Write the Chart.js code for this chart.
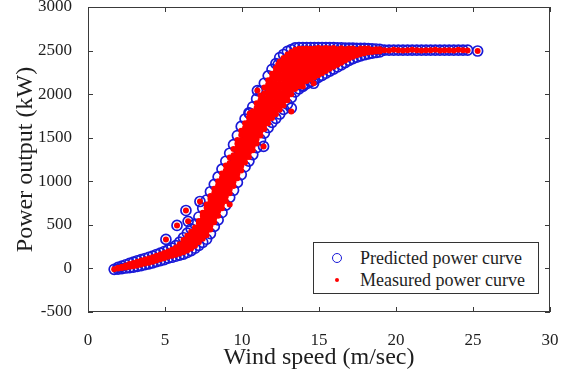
<!DOCTYPE html>
<html lang="en">
<head>
<meta charset="UTF-8">
<title>Power curve</title>
<script src="https://cdn.jsdelivr.net/npm/chart.js"></script>
<style>
  html, body { margin: 0; padding: 0; background: #fff; }
  .wrap { position: relative; width: 577px; height: 372px; }
  .legend {
    position: absolute; left: 313px; top: 242px; width: 224px; height: 50px;
    border: 1px solid #333; background: #fff;
    font-family: "Liberation Serif", serif; font-size: 18px; color: #1e1e1e;
  }
  .legend .row { position: absolute; left: 46px; height: 20px; line-height: 20px; white-space: nowrap; }
  .legend .ring { position: absolute; left: 18px; width: 8px; height: 8px; border: 1.6px solid #1919d7; border-radius: 50%; }
  .legend .dot { position: absolute; left: 21px; width: 4px; height: 4px; background: #ff0000; border-radius: 50%; }
</style>
</head>
<body>
<div class="wrap">
  <canvas id="powerChart" width="577" height="372"></canvas>
  <div class="legend">
    <span class="ring" style="top:10px"></span><span class="row" style="top:5px">Predicted power curve</span>
    <span class="dot" style="top:35px"></span><span class="row" style="top:27px">Measured power curve</span>
  </div>
</div>
<script>
// wind speed bins (m/s)
const windSpeed = [
  1.7, 1.95, 2.2, 2.45, 2.7, 2.95, 3.2, 3.45, 3.7, 3.95, 4.2, 4.45, 4.7, 4.95, 5.2, 5.45, 5.7, 5.95,
  6.2, 6.45, 6.7, 6.95, 7.2, 7.45, 7.7, 7.95, 8.2, 8.45, 8.7, 8.95, 9.2, 9.45, 9.7, 9.95,
  10.2, 10.45, 10.7, 10.95, 11.2, 11.45, 11.7, 11.95, 12.2, 12.45, 12.7, 12.95, 13.2, 13.45, 13.7, 13.95,
  14.2, 14.45, 14.7, 14.95, 15.2, 15.45, 15.7, 15.95, 16.2, 16.45, 16.7, 16.95, 17.2, 17.45, 17.7, 17.95,
  18.2, 18.45, 18.7, 18.95,
  19.25, 19.55, 19.85, 20.15, 20.45, 20.75, 21.05, 21.35, 21.65, 21.95, 22.25, 22.55, 22.85, 23.15,
  23.45, 23.75, 24.05, 24.35, 24.65
];

// measured power (kW) seen at each speed bin
const measuredKW = [
  [-8], [-2, 8], [5, 20], [12, 35], [18, 50], [26, 62], [35, 78], [45, 90], [56, 102], [66, 115],
  [78, 128], [92, 145], [105, 160], [118, 150, 178], [135, 168, 195], [145, 180, 215], [158, 200, 240],
  [171, 215, 255, 278], [185, 230, 280, 325], [205, 250, 295, 340, 375], [230, 275, 320, 365, 420],
  [260, 305, 350, 395, 440, 470], [300, 345, 390, 435, 480, 520, 545],
  [342, 385, 430, 475, 520, 565, 605, 640], [380, 425, 470, 515, 560, 605, 650, 695, 735],
  [447, 492, 537, 582, 627, 672, 717, 762, 800, 830],
  [530, 578, 626, 674, 722, 770, 818, 866, 915],
  [605, 655, 705, 755, 805, 855, 905, 955, 1000],
  [690, 740, 790, 840, 890, 940, 990, 1040, 1090],
  [775, 825, 875, 925, 975, 1025, 1075, 1125, 1180],
  [734, 863, 910, 960, 1010, 1060, 1110, 1160, 1210, 1272],
  [945, 995, 1045, 1095, 1145, 1195, 1245, 1300, 1370],
  [1035, 1085, 1135, 1185, 1235, 1285, 1335, 1385, 1430, 1475],
  [1125, 1175, 1225, 1275, 1325, 1375, 1425, 1475, 1530, 1580],
  [1215, 1265, 1315, 1365, 1415, 1465, 1515, 1565, 1615, 1665],
  [1280, 1330, 1380, 1430, 1480, 1530, 1580, 1630, 1685, 1735],
  [1355, 1405, 1455, 1505, 1555, 1605, 1655, 1705, 1755, 1805],
  [1435, 1485, 1535, 1585, 1635, 1685, 1735, 1790, 1845, 1895],
  [1525, 1575, 1625, 1675, 1725, 1775, 1825, 1875, 1930, 1985],
  [1600, 1650, 1700, 1750, 1800, 1850, 1900, 1950, 2010, 2075],
  [1665, 1715, 1765, 1815, 1865, 1915, 1965, 2015, 2065, 2110, 2160],
  [1725, 1775, 1825, 1875, 1925, 1975, 2025, 2075, 2130, 2185, 2235],
  [1770, 1820, 1870, 1920, 1970, 2020, 2070, 2120, 2170, 2220, 2260, 2300],
  [1820, 1870, 1920, 1970, 2020, 2070, 2120, 2170, 2220, 2270, 2325, 2375],
  [1870, 1920, 1970, 2020, 2070, 2120, 2170, 2220, 2270, 2320, 2370, 2415],
  [1930, 1980, 2030, 2080, 2130, 2180, 2230, 2280, 2330, 2380, 2420, 2455],
  [2000, 2050, 2100, 2150, 2200, 2250, 2300, 2350, 2400, 2445, 2485],
  [2060, 2110, 2160, 2210, 2260, 2310, 2360, 2410, 2460, 2510],
  [2090, 2140, 2190, 2240, 2290, 2340, 2390, 2440, 2480, 2520],
  [2130, 2180, 2230, 2280, 2330, 2380, 2430, 2475, 2520],
  [2150, 2200, 2250, 2300, 2350, 2400, 2445, 2485, 2525],
  [2172, 2222, 2272, 2322, 2372, 2420, 2470, 2520],
  [2195, 2245, 2295, 2345, 2395, 2440, 2485, 2525],
  [2218, 2268, 2318, 2368, 2415, 2460, 2500, 2530],
  [2240, 2290, 2340, 2390, 2440, 2485, 2525],
  [2265, 2315, 2365, 2415, 2460, 2500, 2530],
  [2290, 2340, 2390, 2440, 2485, 2525],
  [2313, 2363, 2410, 2455, 2495, 2530],
  [2337, 2385, 2430, 2475, 2515],
  [2360, 2410, 2455, 2495, 2528],
  [2385, 2430, 2475, 2515],
  [2410, 2455, 2495, 2525],
  [2430, 2470, 2505, 2525],
  [2445, 2480, 2510],
  [2460, 2495, 2525],
  [2470, 2500, 2525],
  [2480, 2505, 2525],
  [2485, 2510], [2490, 2515], [2490, 2515],
  [2505], [2500], [2510], [2505], [2500], [2505], [2510], [2505], [2500], [2505],
  [2505], [2510], [2500], [2505], [2505], [2500], [2510], [2505], [2500]
];

// predicted power (kW) circles visible at each speed bin (edges of the band)
const predictedKW = [
  [-10], [-8, 12], [-2, 26], [5, 42], [10, 58], [16, 72], [24, 88], [33, 100], [44, 114], [53, 128],
  [64, 142], [78, 160], [90, 176], [102, 194], [118, 212], [128, 234], [140, 262],
  [152, 302], [165, 352], [183, 405], [205, 455], [232, 508], [265, 590], [300, 690], [335, 785],
  [400, 880], [482, 965], [557, 1050], [642, 1140], [727, 1230], [815, 1322], [897, 1420],
  [987, 1525], [1077, 1630], [1167, 1715], [1232, 1785], [1307, 1855], [1387, 1945],
  [1477, 2035], [1552, 2125], [1617, 2210], [1677, 2285], [1722, 2350], [1772, 2420],
  [1825, 2455], [1885, 2490], [1960, 2512], [2025, 2250, 2530], [2060, 2330, 2535],
  [2100, 2280, 2535], [2120, 2400, 2535], [2145, 2320, 2535], [2168, 2440, 2535],
  [2192, 2368, 2535], [2215, 2535], [2240, 2535], [2265, 2535], [2288, 2535], [2312, 2530],
  [2337, 2530], [2362, 2528], [2387, 2528], [2408, 2528], [2424, 2525], [2440, 2525],
  [2452, 2525], [2462, 2522], [2470, 2520], [2478, 2518], [2485, 2515],
  [2505], [2505], [2505], [2505], [2505], [2505], [2505], [2505], [2505], [2505],
  [2505], [2505], [2505], [2505], [2505], [2505], [2505], [2505], [2505]
];

// lone points away from the main band
const outlierSpeed = [5.06, 5.78, 6.36, 6.5, 7.27, 10.5, 11.0, 11.4, 12.35, 13.2, 13.95, 14.65, 25.3];
const outlierPredicted = [333, 493, 665, 540, 768, 1778, 2041, 1400, 2340, 1840, 2088, 2125, 2495];
const outlierMeasured = [333, 493, 665, 540, 768, 1778, 2041, 1400, 2340, 1800, 2088, 2125, 2495];

const xTicks = { min: 0, max: 30, step: 5 };
const yTicks = { min: -500, max: 3000, step: 500 };

function toPoints(speeds, powers, extraX, extraY) {
  const pts = [];
  speeds.forEach((s, i) => powers[i].forEach(p => pts.push({ x: s, y: p })));
  extraX.forEach((s, i) => pts.push({ x: s, y: extraY[i] }));
  return pts;
}

const serif = 'Liberation Serif';
const textColor = '#1e1e1e';

// box round the plot with inward tick marks, MATLAB style
const frameTicks = {
  id: 'frameTicks',
  afterDatasetsDraw(chart) {
    const { ctx, chartArea: a, scales: { x, y } } = chart;
    ctx.save();
    ctx.strokeStyle = '#3a3a3a';
    ctx.lineWidth = 1;
    ctx.beginPath();
    x.ticks.forEach(t => {
      const px = Math.round(x.getPixelForValue(t.value)) + 0.5;
      ctx.moveTo(px, a.bottom); ctx.lineTo(px, a.bottom - 5);
      ctx.moveTo(px, a.top); ctx.lineTo(px, a.top + 5);
    });
    y.ticks.forEach(t => {
      const py = Math.round(y.getPixelForValue(t.value)) + 0.5;
      ctx.moveTo(a.left, py); ctx.lineTo(a.left + 5, py);
      ctx.moveTo(a.right, py); ctx.lineTo(a.right - 5, py);
    });
    ctx.stroke();
    ctx.strokeRect(Math.round(a.left) + 0.5, Math.round(a.top) + 0.5,
      Math.round(a.width) - 1, Math.round(a.height) - 1);
    ctx.restore();
  }
};

new Chart(document.getElementById('powerChart'), {
  type: 'scatter',
  data: {
    datasets: [
      {
        label: 'Measured power curve',
        data: toPoints(windSpeed, measuredKW, outlierSpeed, outlierMeasured),
        pointRadius: 3,
        pointBorderWidth: 0,
        pointBackgroundColor: '#ff0000',
        order: 0
      },
      {
        label: 'Predicted power curve',
        data: toPoints(windSpeed, predictedKW, outlierSpeed, outlierPredicted),
        pointRadius: 5,
        pointBorderWidth: 1.7,
        pointBorderColor: '#1919d7',
        pointBackgroundColor: 'rgba(0,0,0,0)',
        order: 1
      }
    ]
  },
  options: {
    responsive: false,
    animation: false,
    events: [],
    layout: { padding: { top: 7, right: 27, bottom: 0, left: 0 } },
    plugins: { legend: { display: false }, tooltip: { enabled: false } },
    scales: {
      x: {
        type: 'linear',
        min: xTicks.min, max: xTicks.max,
        grid: { display: false }, border: { display: false },
        ticks: { stepSize: xTicks.step, padding: 10, color: textColor,
          font: { family: serif, size: 17 }, callback: v => String(v) },
        title: { display: true, text: 'Wind speed (m/sec)', color: textColor,
          font: { family: serif, size: 24 }, padding: { top: 0, bottom: 0 } },
        afterFit(s) { s.height = 60; s.paddingLeft = 0; s.paddingRight = 0; }
      },
      y: {
        type: 'linear',
        min: yTicks.min, max: yTicks.max,
        grid: { display: false }, border: { display: false },
        ticks: { stepSize: yTicks.step, padding: 8, color: textColor,
          font: { family: serif, size: 17 }, callback: v => String(v) },
        title: { display: true, text: 'Power output (kW)', color: textColor,
          font: { family: serif, size: 24 }, padding: { top: 11, bottom: 0 } },
        afterFit(s) { s.width = 88; s.paddingTop = 0; s.paddingBottom = 0; }
      }
    }
  },
  plugins: [frameTicks]
});
</script>
</body>
</html>
